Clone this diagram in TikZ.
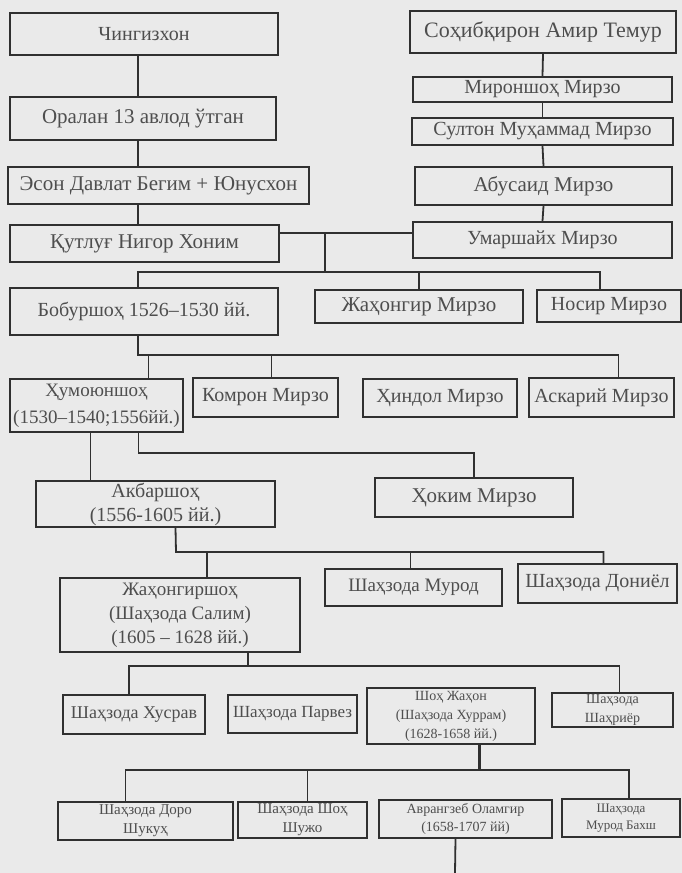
\documentclass[tikz,border=0pt]{standalone}
\usepackage{xcolor}
\usepackage{fontspec}
\usepackage{tikz}
\setmainfont{Liberation Serif}
\definecolor{bg}{RGB}{234,234,234}
\definecolor{ln}{RGB}{48,48,48}
\definecolor{txt}{RGB}{78,78,78}
\newcommand\fs[2]{\fontsize{#1}{#2}\selectfont}

\begin{document}
\begin{tikzpicture}[x=1pt,y=-1pt]
\tikzstyle{box}=[draw=ln,line width=2pt,fill=bg,text=txt,inner sep=0pt,align=center];
\tikzstyle{link}=[draw=ln,line width=1.8pt];
\fill[bg] (0,0) rectangle (682,873);
\useasboundingbox (0,0) rectangle (682,873);

% left column
\node[box,minimum width=268pt,minimum height=42pt,font=\fs{20}{24}] (A)at(144,34) {Чингизхон};
\node[box,minimum width=266pt,minimum height=43pt,font=\fs{21}{25}] (B)at(143,118.5) {Оралан 13 авлод ўтган};
\node[box,minimum width=301pt,minimum height=37pt,font=\fs{21}{25}] (C)at(158.5,185.5) {Эсон Давлат Бегим + Юнусхон};
\node[box,minimum width=269pt,minimum height=37pt,font=\fs{21}{25}] (D)at(144.5,243.5) {Қутлуғ Нигор Хоним};

% right column
\node[box,minimum width=266pt,minimum height=42pt,font=\fs{22}{26}] (E)at(543,32) {Соҳибқирон Амир Темур};
\node[box,minimum width=259pt,minimum height=25pt,font=\fs{20}{24}] (F)at(542.5,89.5) {Мироншоҳ Мирзо};
\node[box,minimum width=261pt,minimum height=27pt,font=\fs{20}{24}] (G)at(542.5,131.5) {Султон Муҳаммад Мирзо};
\node[box,minimum width=257pt,minimum height=38pt,font=\fs{21}{25}] (H)at(543.5,186) {Абусаид Мирзо};
\node[box,minimum width=259pt,minimum height=36pt,font=\fs{20}{24}] (I)at(542.5,240) {Умаршайх Мирзо};

% Bobur and brothers
\node[box,minimum width=268pt,minimum height=47pt,font=\fs{20}{24}] (J)at(144,311.5) {Бобуршоҳ 1526–1530 йй.};
\node[box,minimum width=208pt,minimum height=33pt,font=\fs{21}{25}] (K)at(419,306.5) {Жаҳонгир Мирзо};
\node[box,minimum width=144pt,minimum height=32pt,font=\fs{20}{24}] (L)at(609,306) {Носир Мирзо};

% Bobur's sons
\node[box,minimum width=173pt,minimum height=53pt,font=\fs{19}{27}] (M)at(96.5,405.5) {Ҳумоюншоҳ\\(1530–1540;1556йй.)};
\node[box,minimum width=145pt,minimum height=39pt,font=\fs{20}{24}] (N)at(265.5,397.5) {Комрон Мирзо};
\node[box,minimum width=154pt,minimum height=38pt,font=\fs{20}{24}] (O)at(440,398) {Ҳиндол Мирзо};
\node[box,minimum width=145pt,minimum height=39pt,font=\fs{20}{24}] (P)at(601.5,397.5) {Аскарий Мирзо};

\node[box,minimum width=239pt,minimum height=46pt,font=\fs{20}{24}] (Q)at(155.5,504) {Акбаршоҳ\\(1556-1605 йй.)};
\node[box,minimum width=198pt,minimum height=39pt,font=\fs{21}{25}] (R)at(474,497.5) {Ҳоким Мирзо};

\node[box,minimum width=240pt,minimum height=74pt,font=\fs{19}{24}] (S)at(180,615) {Жаҳонгиршоҳ\\(Шаҳзода Салим)\\(1605 – 1628 йй.)};
\node[box,minimum width=177pt,minimum height=37pt,font=\fs{19}{23}] (T)at(413.5,587.5) {Шаҳзода Мурод};
\node[box,minimum width=159pt,minimum height=39pt,font=\fs{20}{24}] (U)at(597.5,583.5) {Шаҳзода Дониёл};

\node[box,minimum width=142pt,minimum height=39pt,font=\fs{18}{22}] (V)at(134,714.5) {Шаҳзода Хусрав};
\node[box,minimum width=129pt,minimum height=38pt,font=\fs{17}{21}] (W)at(292.5,714) {Шаҳзода Парвез};
\node[box,minimum width=168pt,minimum height=56pt,font=\fs{14}{19}] (X)at(451,716) {Шоҳ Жаҳон\\(Шаҳзода Хуррам)\\(1628-1658 йй.)};
\node[box,minimum width=121pt,minimum height=34pt,font=\fs{14}{19}] (Y)at(612.5,710) {Шаҳзода\\Шаҳриёр};

\node[box,minimum width=175pt,minimum height=38pt,font=\fs{15}{19}] (Z)at(145.5,821) {Шаҳзода Доро\\Шукуҳ};
\node[box,minimum width=129pt,minimum height=36pt,font=\fs{15}{19}] (AA)at(302.5,820) {Шаҳзода Шоҳ\\Шужо};
\node[box,minimum width=173pt,minimum height=38pt,font=\fs{14}{18}] (AB)at(465.5,819) {Аврангзеб Оламгир\\(1658-1707 йй)};
\node[box,minimum width=118pt,minimum height=38pt,font=\fs{13}{17}] (AC)at(621,818) {Шаҳзода\\Мурод Бахш};

% connectors
\coordinate (l1) at (138,0);
\draw[link] (A.south-|l1)--(B.north-|l1);
\draw[link] (B.south-|l1)--(C.north-|l1);
\draw[link] (C.south-|l1)--(D.north-|l1);
\draw[link] (E.south)--(F.north);
\draw[link] (F.south)--(G.north);
\draw[link] (G.south)--(H.north);
\draw[link] (H.south)--(I.north);

\coordinate (k1) at (325,233);
\coordinate (k2) at (325,272);
\draw[link] (D.east|-k1)--(I.west|-k1);
\draw[link] (k1)--(k2);
\draw[link] (J.north-|l1)|-(k2)-|([xshift=-9pt]L.north);
\draw[link] (k2)-|(K.north);

\coordinate (m1) at (138,355);
\draw[link] (J.south-|m1)--(m1)-|([xshift=17pt]P.north);
\draw[link] ([xshift=52pt]M.north)--([xshift=52pt]M.north|-m1);
\draw[link] ([xshift=6pt]N.north)--([xshift=6pt]N.north|-m1);

\coordinate (h1) at (139,453);
\draw[link] ([xshift=-6pt]M.south)--([xshift=-6pt]M.south|-Q.north);
\draw[link] ([xshift=42pt]M.south)|-(h1)-|(R.north);

\coordinate (p1) at (176,552);
\draw[link] ([xshift=20pt]Q.south)--(p1)-|([xshift=6pt]U.north);
\draw[link] ([xshift=27pt]S.north)--([xshift=27pt]S.north|-p1);
\draw[link] ([xshift=-3pt]T.north)--([xshift=-3pt]T.north|-p1);

\coordinate (q1) at (248,666);
\draw[link] ([xshift=68pt]S.south)--(q1);
\draw[link] ([xshift=-5pt]V.north)|-(q1)-|([xshift=7pt]Y.north);

\coordinate (r1) at (479,770);
\draw[link,line width=3pt] ([xshift=28pt]X.south)--(r1);
\draw[link] ([xshift=-20pt]Z.north)|-(r1)-|([xshift=8pt]AC.north);
\draw[link] ([xshift=5pt]AA.north)--([xshift=5pt]AA.north|-r1);

\coordinate (s1) at (455,873);
\draw[link] ([xshift=-10pt]AB.south)--(s1);
\end{tikzpicture}
\end{document}
